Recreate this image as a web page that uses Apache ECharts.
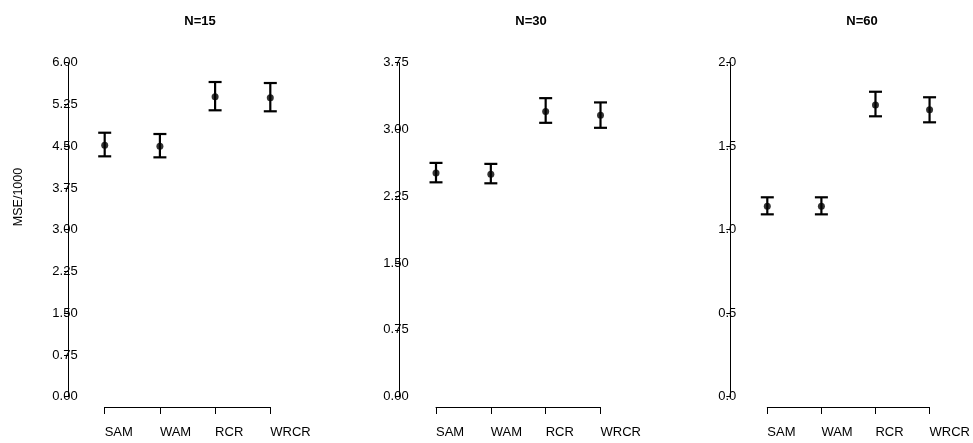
<!DOCTYPE html>
<html>
<head>
<meta charset="utf-8">
<script src="https://cdn.jsdelivr.net/npm/echarts@6/dist/echarts.min.js"></script>
<style>
html,body{margin:0;padding:0;background:#fff;}
#chart{width:973px;height:443px;}
</style>
</head>
<body>
<div id="chart"></div>
<script>
var categories = ['SAM', 'WAM', 'RCR', 'WRCR'];
var panelTitles = ['N=15', 'N=30', 'N=60'];
var yAxisTitle = 'MSE/1000';

var mean15 = [4.516, 4.498, 5.389, 5.371];
var lower15 = [4.318, 4.300, 5.145, 5.127];
var upper15 = [4.742, 4.719, 5.653, 5.635];

var mean30 = [2.513, 2.497, 3.202, 3.161];
var lower30 = [2.407, 2.396, 3.075, 3.019];
var upper30 = [2.625, 2.614, 3.352, 3.304];

var mean60 = [1.140, 1.140, 1.747, 1.719];
var lower60 = [1.092, 1.092, 1.679, 1.643];
var upper60 = [1.194, 1.194, 1.826, 1.793];

var ticks15 = ['0.00', '0.75', '1.50', '2.25', '3.00', '3.75', '4.50', '5.25', '6.00'];
var ticks30 = ['0.00', '0.75', '1.50', '2.25', '3.00', '3.75'];
var ticks60 = ['0.0', '0.5', '1.0', '1.5', '2.0'];

var panels = [
  {mean: mean15, lower: lower15, upper: upper15, ticks: ticks15, interval: 0.75, max: 6, left: 104.7, width: 165.6, offset: 36.7, titleX: 200},
  {mean: mean30, lower: lower30, upper: upper30, ticks: ticks30, interval: 0.75, max: 3.75, left: 436, width: 164.5, offset: 37, titleX: 531},
  {mean: mean60, lower: lower60, upper: upper60, ticks: ticks60, interval: 0.5, max: 2, left: 767.3, width: 164.4, offset: 37, titleX: 862}
];

var FONT = '"Liberation Sans", Arial, sans-serif';
var grids = [], xAxes = [], yAxes = [], series = [], titles = [];

panels.forEach(function (p, i) {
  grids.push({left: p.left, width: p.width, top: 62.7, height: 334, containLabel: false});
  xAxes.push({
    type: 'category', gridIndex: i, data: categories, boundaryGap: false,
    offset: 10.3,
    axisLine: {show: true, onZero: false, lineStyle: {color: '#000', width: 1}},
    axisTick: {show: true, length: 7, lineStyle: {color: '#000', width: 1}},
    axisLabel: {show: true, align: 'left', margin: 19, color: '#000', fontSize: 13, fontFamily: FONT, interval: 0},
    splitLine: {show: false}
  });
  (function (tk, iv) {
    yAxes.push({
      type: 'value', gridIndex: i, min: 0, max: p.max, interval: iv,
      offset: p.offset,
      axisLine: {show: true, onZero: false, lineStyle: {color: '#000', width: 1}},
      axisTick: {show: true, length: 4, lineStyle: {color: '#000', width: 1}},
      axisLabel: {
        show: true, align: 'center', margin: 3, color: '#000', fontSize: 13, fontFamily: FONT,
        formatter: function (v) { return tk[Math.round(v / iv)]; }
      },
      splitLine: {show: false}
    });
  })(p.ticks, p.interval);

  var barData = categories.map(function (c, k) { return [k, p.lower[k], p.upper[k]]; });
  series.push({
    type: 'custom', xAxisIndex: i, yAxisIndex: i, data: barData,
    renderItem: function (params, api) {
      var x = api.value(0);
      var lo = api.coord([x, api.value(1)]);
      var hi = api.coord([x, api.value(2)]);
      var hw = 6.5;
      var st = {stroke: '#000', lineWidth: 2.2};
      return {
        type: 'group',
        children: [
          {type: 'line', shape: {x1: lo[0], y1: lo[1], x2: hi[0], y2: hi[1]}, style: st},
          {type: 'line', shape: {x1: lo[0] - hw, y1: lo[1], x2: lo[0] + hw, y2: lo[1]}, style: st},
          {type: 'line', shape: {x1: hi[0] - hw, y1: hi[1], x2: hi[0] + hw, y2: hi[1]}, style: st}
        ]
      };
    },
    silent: true, z: 2
  });
  series.push({
    type: 'scatter', xAxisIndex: i, yAxisIndex: i,
    data: categories.map(function (c, k) { return [k, p.mean[k]]; }),
    symbol: 'circle', symbolSize: 7,
    itemStyle: {color: '#000'}, silent: true, z: 3
  });
  titles.push({
    text: panelTitles[i], left: p.titleX, top: 15, textAlign: 'center', padding: 0,
    textStyle: {fontSize: 13, fontWeight: 'bold', color: '#000', fontFamily: FONT}
  });
});

var chart = echarts.init(document.getElementById('chart'), null, {renderer: 'canvas'});
chart.setOption({
  animation: false,
  backgroundColor: '#fff',
  title: titles,
  grid: grids,
  xAxis: xAxes,
  yAxis: yAxes,
  series: series,
  graphic: [{
    type: 'text', x: 19, y: 197, rotation: Math.PI / 2,
    style: {text: yAxisTitle, fontSize: 12.5, fontFamily: FONT, fill: '#000', align: 'center', verticalAlign: 'middle'}
  }]
});
</script>
</body>
</html>
